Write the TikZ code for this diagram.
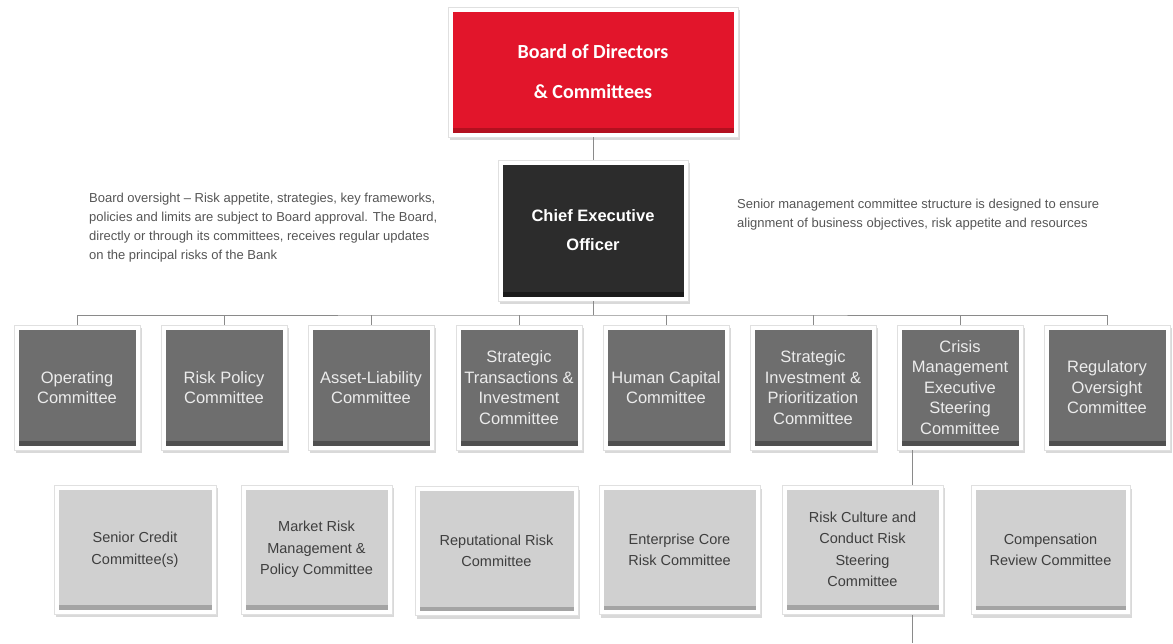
\documentclass[tikz,border=0pt]{standalone}
\usepackage{fontspec}
\setmainfont{Liberation Sans}
\newfontfamily\boardfont{Carlito}
\usetikzlibrary{shadows}
\definecolor{boardred}{HTML}{E2152B}
\definecolor{boardband}{HTML}{B3101F}
\definecolor{ceofill}{HTML}{2C2C2C}
\definecolor{ceoband}{HTML}{1A1A1A}
\definecolor{topgray}{HTML}{6E6E6E}
\definecolor{topband}{HTML}{505050}
\definecolor{toptext}{HTML}{ECECEC}
\definecolor{lowgray}{HTML}{D0D0D0}
\definecolor{lowband}{HTML}{A4A4A4}
\definecolor{lowtext}{HTML}{3E3E3E}
\definecolor{notetext}{HTML}{555555}
\definecolor{linkgray}{HTML}{8A8A8A}
\tikzset{
  panel/.style 2 args={fill=white, draw=black!12, line width=0.6pt, inner sep=0pt, align=center,
    drop shadow={shadow xshift=1.5pt, shadow yshift=-3pt, opacity=0.3},
    path picture={
      \fill[#1] ([shift={(4.5pt,4.5pt)}]path picture bounding box.south west) rectangle ([shift={(-4.5pt,-4.5pt)}]path picture bounding box.north east);
      \fill[#2] ([shift={(4.5pt,4.5pt)}]path picture bounding box.south west) rectangle ([shift={(-4.5pt,9pt)}]path picture bounding box.south east);
    }},
  boardbox/.style={panel={boardred}{boardband}, minimum width=290pt, minimum height=130pt, text=white,
    font=\boardfont\bfseries\fontsize{20}{40}\selectfont},
  ceobox/.style={panel={ceofill}{ceoband}, minimum width=190pt, minimum height=141pt, text=white,
    font=\bfseries\fontsize{16.5}{29}\selectfont},
  topcom/.style={panel={topgray}{topband}, minimum width=126pt, minimum height=125pt, text=toptext,
    font=\fontsize{16.5}{20.5}\selectfont},
  lowcom/.style={panel={lowgray}{lowband}, minimum height=129pt, text=lowtext,
    font=\fontsize{14.5}{21.5}\selectfont},
  note/.style={anchor=north west, inner sep=0pt, align=left, text=notetext, font=\fontsize{13}{19}\selectfont},
  link/.style={draw=linkgray, line width=1pt}
}
\begin{document}
\begin{tikzpicture}[x=1pt, y=-1pt]
\useasboundingbox (0,0) rectangle (1173,643);
\node[boardbox] (board) at (593,72) {Board of Directors\\\& Committees};
\node[ceobox] (ceo) at (593,230.5) {Chief Executive\\Officer};
\node[note] (oversight) at (89,192.5) {Board oversight -- Risk appetite, strategies, key frameworks,\\policies and limits are subject to Board approval. The Board,\\directly or through its committees, receives regular updates\\on the principal risks of the Bank};
\node[note] (design) at (737,198.5) {Senior management committee structure is designed to ensure\\alignment of business objectives, risk appetite and resources};
\node[topcom] (opc) at (77,387.5) {Operating\\Committee};
\node[topcom] (rpc) at (224,387.5) {Risk Policy\\Committee};
\node[topcom] (alc) at (371,387.5) {Asset-Liability\\Committee};
\node[topcom] (stc) at (519,387.5) {Strategic\\Transactions \&\\Investment\\Committee};
\node[topcom] (hcc) at (666,387.5) {Human Capital\\Committee};
\node[topcom] (sic) at (813,387.5) {Strategic\\Investment \&\\Prioritization\\Committee};
\node[topcom] (cmc) at (960,387.5) {Crisis\\Management\\Executive\\Steering\\Committee};
\node[topcom] (roc) at (1107,387.5) {Regulatory\\Oversight\\Committee};
\coordinate (bus) at (593,315);
\coordinate (tail) at (912,643);
\draw[link] (board) -- (ceo);
\draw[link] (ceo) -- (bus);
\draw[link] (opc.north) |- (bus) -| (roc.north);
\foreach \n in {rpc,alc,stc,hcc,sic,cmc}
  \draw[link] (\n.north) -- (\n.north |- bus);
\draw[link] (cmc.south -| tail) -- (tail);
\node[lowcom, minimum width=162pt] (scc) at (135,549.5) {Senior Credit\\Committee(s)};
\node[lowcom, minimum width=151pt] (mrc) at (316.5,549.5) {Market Risk\\Management \&\\Policy Committee};
\node[lowcom, minimum width=163pt] (rrc) at (496.5,551) {Reputational Risk\\Committee};
\node[lowcom, minimum width=161pt] (ecr) at (679.5,550) {Enterprise Core\\Risk Committee};
\node[lowcom, minimum width=161pt] (rcc) at (862.5,549.5) {Risk Culture and\\Conduct Risk\\Steering\\Committee};
\node[lowcom, minimum width=159pt] (crc) at (1050.5,550) {Compensation\\Review Committee};
\end{tikzpicture}
\end{document}
